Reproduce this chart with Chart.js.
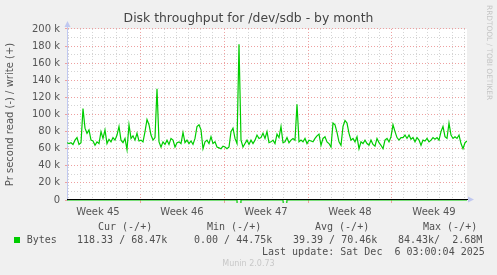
<!DOCTYPE html>
<html>
<head>
<meta charset="utf-8">
<script src="https://cdn.jsdelivr.net/npm/chart.js@4/dist/chart.umd.min.js"></script>
<style>
  html, body { margin: 0; padding: 0; background: #f0f0f0; }
  #quadro { position: relative; width: 497px; height: 275px; overflow: hidden; }
  #quadro canvas { position: absolute; left: 0; top: 0; }
  .mono { position: absolute; font: 10px 'DejaVu Sans Mono', monospace; line-height: 12px; color: #505050; white-space: pre; }
  .quadrado { position: absolute; left: 14px; top: 237px; width: 6px; height: 6px; background: #00cc00; }
  .rrd { position: absolute; left: 485px; top: 5px; font: 7.4px 'DejaVu Sans', sans-serif; color: #c4c4c4; writing-mode: vertical-rl; white-space: pre; }
  .munin { position: absolute; left: 0; width: 497px; top: 258px; text-align: center; font: 8px 'DejaVu Sans', sans-serif; line-height: 12px; color: #c8c8c8; }
</style>
</head>
<body>
<div id="quadro">
  <canvas id="grafico" width="497" height="275"></canvas>
</div>
<script>
// ---- dados (write em k/s, um ponto a cada 4 horas) ----
const weekLabels = ['Week 45', 'Week 46', 'Week 47', 'Week 48', 'Week 49'];
const yTickLabels = ['0', '20 k', '40 k', '60 k', '80 k', '100 k', '120 k', '140 k', '160 k', '180 k', '200 k'];

const writeValues = [
  67, 66, 67, 65, 70, 73, 65, 67, 107, 84,
  78, 82, 70, 69, 64, 68, 66, 80, 72, 82,
  66, 71, 68, 73, 70, 76, 86, 70, 67, 72,
  59, 88, 72, 75, 70, 78, 69, 70, 68, 80,
  94, 88, 76, 70, 73, 130, 68, 62, 68, 65,
  70, 65, 72, 70, 62, 67, 68, 66, 79, 67,
  70, 66, 69, 65, 72, 86, 88, 82, 60, 68,
  70, 66, 74, 66, 68, 62, 61, 60, 63, 62,
  60, 62, 80, 84, 72, 66, 182, 70, 62, 66,
  70, 65, 70, 66, 70, 76, 72, 73, 78, 72,
  80, 67, 68, 70, 66, 77, 73, 86, 67, 68,
  73, 67, 70, 72, 70, 112, 68, 70, 68, 72,
  66, 70, 69, 68, 72, 75, 77, 64, 72, 74,
  68, 66, 62, 90, 88, 79, 68, 64, 86, 93,
  90, 78, 70, 72, 68, 74, 60, 68, 66, 70,
  66, 64, 70, 65, 63, 72, 67, 64, 60, 70,
  72, 68, 74, 88, 80, 73, 70, 73, 73, 76,
  72, 76, 71, 73, 68, 73, 70, 64, 70, 69,
  72, 68, 70, 73, 71, 73, 70, 80, 86, 74,
  72, 90, 76, 72, 74, 72, 76, 66, 60, 67,
  69
];

// read fica praticamente em zero, so dois picos
const readValues = [
  0, 0, 0, 0, 0, 0, 0, 0, 0, 0,
  0, 0, 0, 0, 0, 0, 0, 0, 0, 0,
  0, 0, 0, 0, 0, 0, 0, 0, 0, 0,
  0, 0, 0, 0, 0, 0, 0, 0, 0, 0,
  0, 0, 0, 0, 0, 0, 0, 0, 0, 0,
  0, 0, 0, 0, 0, 0, 0, 0, 0, 0,
  0, 0, 0, 0, 0, 0, 0, 0, 0, 0,
  0, 0, 0, 0, 0, 0, 0, 0, 0, 0,
  0, 0, 0, 0, 0, 0, 84.43, 0, 0, 0,
  0, 0, 0, 0, 0, 0, 0, 0, 0, 0,
  0, 0, 0, 0, 0, 0, 0, 0, 0, 30,
  0, 0, 0, 0, 0, 0, 0, 0, 0, 0,
  0, 0, 0, 0, 0, 0, 0, 0, 0, 0,
  0, 0, 0, 0, 0, 0, 0, 0, 0, 0,
  0, 0, 0, 0, 0, 0, 0, 0, 0, 0,
  0, 0, 0, 0, 0, 0, 0, 0, 0, 0,
  0, 0, 0, 0, 0, 0, 0, 0, 0, 0,
  0, 0, 0, 0, 0, 0, 0, 0, 0, 0,
  0, 0, 0, 0, 0, 0, 0, 0, 0, 0,
  0, 0, 0, 0, 0, 0, 0, 0, 0, 0,
  0
];

const legendHeads = ['Cur (-/+)', 'Min (-/+)', 'Avg (-/+)', 'Max (-/+)'];
const legendStats = ['118.33 / 68.47k', '0.00 / 44.75k', '39.39 / 70.46k', '84.43k/  2.68M'];
const lastUpdate = 'Last update: Sat Dec  6 03:00:04 2025';

// eixo x em dias: dia 0 = segunda da Week 45
const startDay = 11 / 12;
const endDay = startDay + 400 / 12;
const passo = 1 / 6; // 4 horas

const writePoints = writeValues.map((v, i) => ({ x: startDay + i * passo, y: v * 1000 }));
const readPoints = readValues.map((v, i) => ({ x: startDay + i * passo, y: -v * 1000 }));

// ---- textos da legenda (html) ----
const quadro = document.getElementById('quadro');
function addText(cls, left, top, text) {
    const d = document.createElement('div');
    d.className = cls;
    if (left !== null) d.style.left = left + 'px';
    if (top !== null) d.style.top = top + 'px';
    d.textContent = text;
    quadro.appendChild(d);
}
const headX = [98, 207, 315, 423];
const statX = [77, 194, 293, 398];
legendHeads.forEach((t, i) => addText('mono', headX[i], 221, t));
legendStats.forEach((t, i) => addText('mono', statX[i], 234, t));
addText('mono', 26.7, 234, 'Bytes');
addText('mono', 262, 246, lastUpdate);
addText('quadrado', null, null, '');
addText('rrd', null, null, 'RRDTOOL / TOBI OETIKER');
addText('munin', null, null, 'Munin 2.0.73');

// ---- cores da grade ----
const corMaior = '#eea0a0';
const corMenor = '#d4d4d4';
const corEixo = '#c0c8f0';

function corGradeX(c) {
    if (!c.tick) return 'transparent';
    const v = c.tick.value;
    if (v % 7 === 0) return corMaior;
    return Number.isInteger(v) ? corMenor : 'transparent';
}
function corTickX(c) {
    if (!c.tick) return 'transparent';
    return c.tick.value % 7 === 0 ? corMaior : 'transparent';
}
function corGradeY(c) {
    if (!c.tick) return 'transparent';
    const v = c.tick.value;
    if (v === 0) return 'transparent';
    return v % 20000 === 0 ? corMaior : corMenor;
}

// fundo branco, linha do zero e setas dos eixos
const decoracao = {
    id: 'decoracao',
    beforeDraw(chart) {
        const a = chart.chartArea;
        const ctx = chart.ctx;
        ctx.save();
        ctx.fillStyle = '#ffffff';
        ctx.fillRect(a.left, a.top, a.right - a.left, a.bottom - a.top);
        ctx.restore();
    },
    afterDatasetsDraw(chart) {
        const a = chart.chartArea;
        const ctx = chart.ctx;
        const y0 = Math.round(chart.scales.y.getPixelForValue(0)) - 0.5;
        ctx.save();
        ctx.strokeStyle = '#000000';
        ctx.lineWidth = 1;
        ctx.beginPath();
        ctx.moveTo(a.left, y0);
        ctx.lineTo(a.right + 1, y0);
        ctx.stroke();
        ctx.restore();
    },
    afterDraw(chart) {
        const a = chart.chartArea;
        const ctx = chart.ctx;
        const x0 = Math.round(a.left) + 0.5;
        const y0 = Math.round(a.bottom) - 0.5;
        ctx.save();
        ctx.strokeStyle = corEixo;
        ctx.fillStyle = corEixo;
        ctx.lineWidth = 1;
        ctx.beginPath();
        ctx.moveTo(x0, a.top);
        ctx.lineTo(x0, a.top - 3);
        ctx.stroke();
        ctx.beginPath();
        ctx.moveTo(x0 - 3, a.top - 2);
        ctx.lineTo(x0 + 3, a.top - 2);
        ctx.lineTo(x0, a.top - 8);
        ctx.closePath();
        ctx.fill();
        ctx.beginPath();
        ctx.moveTo(a.right + 1, y0 - 3);
        ctx.lineTo(a.right + 1, y0 + 3);
        ctx.lineTo(a.right + 7, y0);
        ctx.closePath();
        ctx.fill();
        ctx.restore();
    }
};

Chart.defaults.font.family = "'DejaVu Sans', sans-serif";

new Chart(document.getElementById('grafico'), {
    type: 'line',
    data: {
        datasets: [
            {
                label: 'read',
                data: readPoints,
                borderColor: '#00cc00',
                borderWidth: 1.2,
                pointRadius: 0,
                tension: 0,
                clip: { left: 0, top: 0, right: 0, bottom: 3 }
            },
            {
                label: 'write',
                data: writePoints,
                borderColor: '#00cc00',
                borderWidth: 1.2,
                pointRadius: 0,
                tension: 0
            }
        ]
    },
    options: {
        responsive: false,
        animation: false,
        devicePixelRatio: 1,
        layout: { padding: 0 },
        plugins: {
            legend: { display: false },
            tooltip: { enabled: false },
            title: {
                display: true,
                text: 'Disk throughput for /dev/sdb - by month',
                font: { size: 12.4, weight: 'normal' },
                color: '#444444',
                padding: { top: 11.6, bottom: 2.5 }
            }
        },
        scales: {
            x: {
                type: 'linear',
                min: startDay,
                max: endDay,
                afterBuildTicks(s) {
                    const t = [];
                    for (let d = 1; d < endDay; d++) t.push({ value: d });
                    weekLabels.forEach((_, i) => t.push({ value: 3.5 + 7 * i }));
                    t.sort((a, b) => a.value - b.value);
                    s.ticks = t;
                },
                ticks: {
                    autoSkip: false,
                    maxRotation: 0,
                    padding: 3,
                    color: '#555555',
                    font: { size: 10 },
                    callback: (v) => {
                        const i = (v - 3.5) / 7;
                        return Number.isInteger(i) ? weekLabels[i] : '';
                    }
                },
                grid: { color: corGradeX, tickColor: corTickX, tickLength: 3 },
                border: { display: false, dash: [1, 2] },
                afterFit(s) { s.height = 75; }
            },
            y: {
                type: 'linear',
                min: 0,
                max: 200000,
                afterBuildTicks(s) {
                    const t = [];
                    for (let v = 0; v <= 200000; v += 10000) t.push({ value: v });
                    s.ticks = t;
                },
                ticks: {
                    autoSkip: false,
                    padding: 5,
                    color: '#555555',
                    font: { size: 10 },
                    callback: (v) => (v % 20000 === 0 ? yTickLabels[v / 20000] : '')
                },
                grid: {
                    color: corGradeY,
                    tickColor: (c) => (c.tick && c.tick.value % 20000 === 0 ? corMaior : 'transparent'),
                    tickLength: 2
                },
                border: { color: corEixo, dash: [1, 2] },
                title: {
                    display: true,
                    text: 'Pr second read (-) / write (+)',
                    color: '#555555',
                    font: { size: 10 },
                    padding: { top: 4, bottom: 0 }
                },
                afterFit(s) { s.width = 67; }
            },
            folga: {
                type: 'linear',
                position: 'right',
                grid: { display: false },
                ticks: { display: false },
                border: { display: false },
                afterFit(s) { s.width = 30; }
            }
        }
    },
    plugins: [decoracao]
});
</script>
</body>
</html>
